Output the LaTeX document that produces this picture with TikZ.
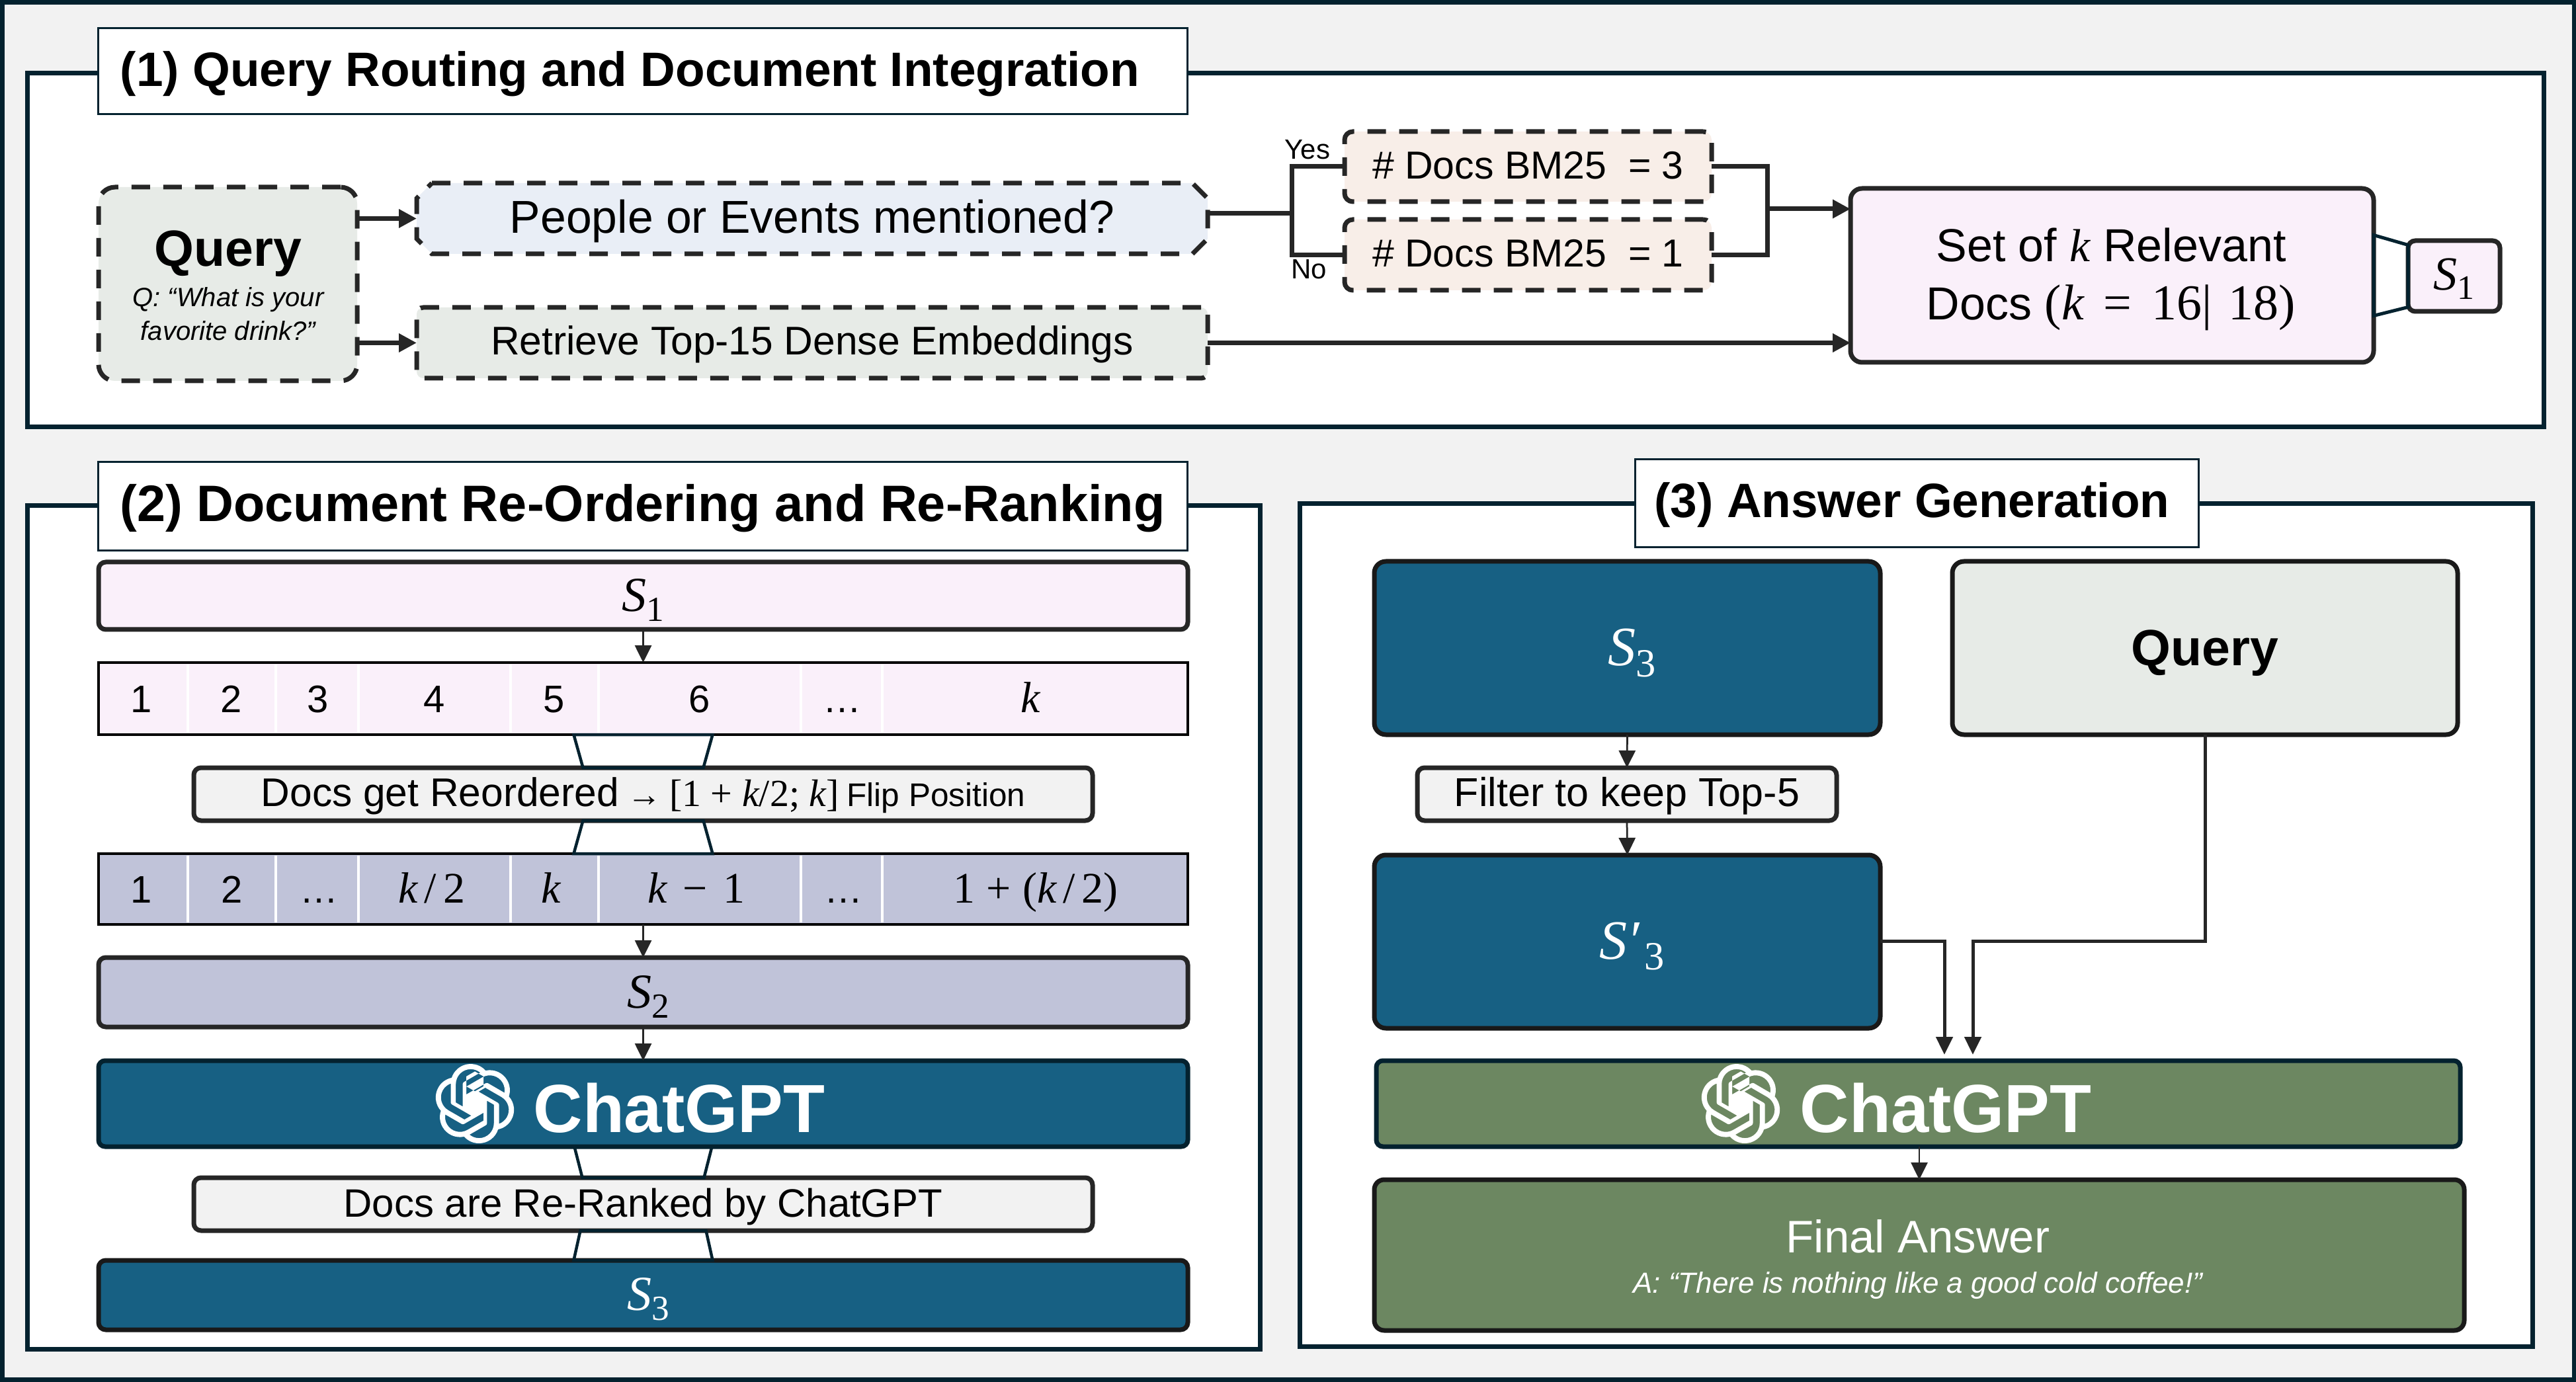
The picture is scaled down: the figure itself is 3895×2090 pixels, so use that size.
\documentclass[tikz,border=0pt]{standalone}
\usepackage{fontspec}
\setmainfont{Liberation Sans}
\newfontfamily\mthf{Liberation Serif}
\usetikzlibrary{arrows.meta,calc,svg.path}
\definecolor{pagebg}{HTML}{F2F2F2}
\definecolor{navy}{HTML}{04222F}
\definecolor{ink}{HTML}{262626}
\definecolor{teal}{HTML}{176083}
\definecolor{moss}{HTML}{6C8761}
\definecolor{lav}{HTML}{C0C3D9}
\definecolor{pinkish}{HTML}{FAF0FA}
\definecolor{greyish}{HTML}{E7EBE7}
\definecolor{bluish}{HTML}{E9EEF6}
\definecolor{peach}{HTML}{F8EEE8}
\newcommand\fs[1]{\fontsize{\fpeval{#1*0.2}}{\fpeval{#1*0.24}}\selectfont}
\newcommand\mi[1]{{\mthf\itshape #1}}
\newcommand\mth[1]{{\fs{66}\mthf #1}}
\newcommand\Ssub[1]{\mi{S}\raisebox{-.2em}{\mthf\scalebox{.72}{#1}}}
\newcommand\Sprime[1]{\mi{S′}\kern1.5pt\raisebox{-.2em}{\mthf\scalebox{.72}{#1}}}
\newcommand\bx[7][]{%
  \pgfmathsetmacro\cxx{(#3+#5)/2}\pgfmathsetmacro\cyy{(#4+#6)/2}%
  \pgfmathsetmacro\ww{(#5-#3-6)*0.2}\pgfmathsetmacro\hh{(#6-#4-6)*0.2}%
  \node[#1,minimum width=\ww pt,minimum height=\hh pt] (#2) at (\cxx,\cyy) {#7};}
\newcommand\gptlogo[3]{\begin{scope}[shift={(#1,#2)},yscale=-1,shift={(-12pt,-12pt)}]
\fill[#3] svg {M 22.2819 9.8211 a 5.9847 5.9847 0 0 0 -0.5157 -4.9108 a 6.0462 6.0462 0 0 0 -6.5098 -2.9 A 6.0651 6.0651 0 0 0 4.9807 4.1818 a 5.9847 5.9847 0 0 0 -3.9977 2.9 a 6.0462 6.0462 0 0 0 0.7427 7.0966 a 5.98 5.98 0 0 0 0.511 4.9107 a 6.051 6.051 0 0 0 6.5146 2.9001 A 5.9847 5.9847 0 0 0 13.2599 24 a 6.0557 6.0557 0 0 0 5.7718 -4.2058 a 5.9894 5.9894 0 0 0 3.9977 -2.9001 a 6.0557 6.0557 0 0 0 -0.7475 -7.0729 z m -9.022 12.6081 a 4.4755 4.4755 0 0 1 -2.8764 -1.0408 l 0.1419 -0.0804 l 4.7783 -2.7582 a 0.7948 0.7948 0 0 0 0.3927 -0.6813 v -6.7369 l 2.02 1.1686 a 0.071 0.071 0 0 1 0.038 0.052 v 5.5826 a 4.504 4.504 0 0 1 -4.4945 4.4944 z m -9.6607 -4.1254 a 4.4708 4.4708 0 0 1 -0.5346 -3.0137 l 0.142 0.0852 l 4.783 2.7582 a 0.7712 0.7712 0 0 0 0.7806 0 l 5.8428 -3.3685 v 2.3324 a 0.0804 0.0804 0 0 1 -0.0332 0.0615 L 9.74 19.9502 a 4.4992 4.4992 0 0 1 -6.1408 -1.6464 z M 2.3408 7.8956 a 4.485 4.485 0 0 1 2.3655 -1.9728 V 11.6 a 0.7664 0.7664 0 0 0 0.3879 0.6765 l 5.8144 3.3543 l -2.0201 1.1685 a 0.0757 0.0757 0 0 1 -0.071 0 l -4.8303 -2.7865 A 4.504 4.504 0 0 1 2.3408 7.872 z m 16.5963 3.8558 L 13.1038 8.364 L 15.1192 7.2 a 0.0757 0.0757 0 0 1 0.071 0 l 4.8303 2.7913 a 4.4944 4.4944 0 0 1 -0.6765 8.1042 v -5.6772 a 0.79 0.79 0 0 0 -0.407 -0.667 z m 2.0107 -3.0231 l -0.142 -0.0852 l -4.7735 -2.7818 a 0.7759 0.7759 0 0 0 -0.7854 0 L 9.409 9.2297 V 6.8974 a 0.0662 0.0662 0 0 1 0.0284 -0.0615 l 4.8303 -2.7866 a 4.4992 4.4992 0 0 1 6.6802 4.66 z M 8.3065 12.863 l -2.02 -1.1638 a 0.0804 0.0804 0 0 1 -0.038 -0.0567 V 6.0742 a 4.4992 4.4992 0 0 1 7.3757 -3.4537 l -0.142 0.0805 L 8.704 5.459 a 0.7948 0.7948 0 0 0 -0.3927 0.6813 z m 1.0976 -2.3654 l 2.602 -1.4998 l 2.6069 1.4998 v 2.9994 l -2.5974 1.4997 l -2.6067 -1.4997 z};
\end{scope}}
\tikzset{
  x=0.2pt,y=-0.2pt,
  every node/.style={inner sep=0pt,outer sep=0pt,align=center},
  bl/.style={text height=#1*0.4pt,text depth=0pt},
  panel/.style={draw=navy,fill=white,line width=1.4pt},
  titlebox/.style={draw=navy,fill=white,line width=.6pt},
  dashbox/.style={draw=ink,line width=1.4pt,dash pattern=on 5.6pt off 4pt},
  solidbox/.style={draw=ink,line width=1.4pt,rounded corners=2.2pt},
  gptbar/.style={draw=navy,line width=1.4pt,rounded corners=2pt},
  rowbar/.style={draw=black,line width=.8pt},
  rowlbl/.style={font=\fs{58},text height=8.3pt,text depth=0pt},
  sep/.style={draw=white,line width=.8pt},
  link/.style={draw=ink,line width=1.4pt},
  arrowthick/.style={draw=ink,line width=1.4pt,-{Triangle[length=5.4pt,width=5.4pt]}},
  arrowmid/.style={draw=ink,line width=1pt,-{Triangle[length=5.4pt,width=5pt]}},
  arrowthin/.style={draw=ink,line width=.55pt,-{Triangle[length=5.2pt,width=5pt]}},
  trap/.style={draw=navy,line width=.9pt},
}
\newcommand\trapv[4]{\draw[trap] ($(#1)+(-#3,0)$) -- ($(#2)+(-#4,0)$) -- ($(#2)+(#4,0)$) -- ($(#1)+(#3,0)$) -- cycle;}
\begin{document}
\begin{tikzpicture}
\useasboundingbox (0,0) rectangle (3895,2090);
\fill[pagebg] (0,0) rectangle (3895,2090);
\draw[navy,line width=1.4pt] (3,4) rectangle (3892,2086);
% panels
\bx[panel]{panelA}{38}{108}{3849}{649}{}
\bx[panel]{panelB}{38}{762}{1908}{2043}{}
\bx[panel]{panelC}{1962}{759}{3832}{2039}{}
\bx[titlebox,bl=23]{titleA}{145}{40}{1798}{176}{\fs{73}\bfseries (1) Query Routing and Document Integration\hspace*{7.6pt}}
\bx[titlebox,bl=23]{titleB}{145}{696}{1798}{836}{\fs{77.5}\bfseries (2) Document Re-Ordering and Re-Ranking}
\bx[titlebox,bl=21.5]{titleC}{2469}{692}{3327}{831}{\fs{73}\bfseries (3) Answer Generation\hspace*{2.8pt}}
% panel 1
\bx[dashbox,fill=greyish,rounded corners=5pt]{query}{146}{280}{543}{579}{}
\node[anchor=base] (querytitle) at (345,403) {\fs{77}\bfseries Query};
\node[anchor=base] (queryline) at (345,464) {\fs{40}\itshape Q: ``What is your};
\node[anchor=base] (querylinetwo) at (345,515) {\fs{40}\itshape favorite drink?''};
\draw[dashbox,fill=bluish] (653,277) -- (1803,277) -- (1826,300) -- (1826,361) -- (1803,384) -- (653,384) -- (630,361) -- (630,300) -- cycle;
\bx[bl=22]{people}{627}{274}{1829}{387}{\fs{69.7}People or Events mentioned?}
\bx[dashbox,fill=greyish,rounded corners=2pt,bl=18]{retrieve}{627}{462}{1829}{575}{\fs{60.5}Retrieve Top-15 Dense Embeddings}
\bx[dashbox,fill=peach,rounded corners=2.5pt,bl=19]{docsyes}{2030}{196}{2591}{308}{\fs{59}\# Docs BM25 ~= 3}
\bx[dashbox,fill=peach,rounded corners=2.5pt,bl=18.5]{docsno}{2030}{329}{2591}{442}{\fs{59}\# Docs BM25 ~= 1}
\bx[solidbox,fill=pinkish,rounded corners=3.5pt]{setk}{2795}{282}{3592}{551}{}
\node[anchor=base] (settop) at (3192,396) {\fs{70}Set of \mi{k} Relevant};
\node[anchor=base] (setbot) at (3192,484) {\fs{70}Docs {\fs{76}\mthf(\mi{k}\hspace{6pt}=\hspace{6pt}16|\hspace{5pt}18)}};
\bx[solidbox,fill=pinkish,bl=21]{sone}{3638}{361}{3783}{474}{\fs{72}\Ssub{1}}
\node[font=\fs{42}] (yes) at (1977,226) {Yes};
\node[font=\fs{42}] (no) at (1979,407) {No};
\coordinate (split) at (1953,323);
\coordinate (join) at (2672,316);
\draw[link] (people.east |- split) -- (split);
\draw[link] (docsyes.west) -| (split) |- (docsno.west);
\draw[link] (docsyes.east) -| (join) |- (docsno.east);
\draw[arrowthick] (join) -- (join -| setk.west);
\draw[arrowthick] (retrieve.east) -- (retrieve.east -| setk.west);
\draw[arrowthick] (query.east |- people.west) -- (people.west);
\draw[arrowthick] (query.east |- retrieve.west) -- (retrieve.west);
\draw[trap,line width=1pt] ($(setk.east)+(0,-61)$) -- ($(sone.west)+(0,-47)$) -- ($(sone.west)+(0,47)$) -- ($(setk.east)+(0,61)$) -- cycle;
% panel 2
\bx[solidbox,fill=pinkish,bl=24]{barone}{146}{847}{1799}{955}{\fs{74}\Ssub{1}}
\bx[rowbar,fill=pinkish]{rowone}{146}{999}{1799}{1114}{}
\foreach \xx/\lbl/\nm in {214/1/a,350/2/b,481/3/c,657/4/d,838/5/e,1058/6/f,1273/…/g,1558/\mth{\mi{k}}/h}
  \node[rowlbl] (r1\nm) at (\xx,1057) {\lbl};
\bx[solidbox,fill=pagebg,bl=18.5]{reorder}{290}{1158}{1655}{1244}{\fs{60.5}Docs get Reordered\hspace{2.4pt}\fs{52}→\hspace{2.4pt}\fs{58}\mthf[1 + \mi{k}/2; \mi{k}]\hspace{2.4pt}\fs{49.5}\rmfamily Flip Position}
\bx[rowbar,fill=lav]{rowtwo}{146}{1288}{1799}{1401}{}
\foreach \xx/\lbl/\nm in {214/1/a,351/2/b,482/…/c,653/\mth{\mi{k}\kern2pt/\kern2pt2}/d,833/\mth{\mi{k}}/e,1053/\mth{\mi{k}\kern4.8pt−\kern4.8pt1}/f,1275/…/g,1566/\mth{1\kern3.5pt+\kern3.5pt(\mi{k}\kern2pt/\kern2pt2)}/h}
  \node[rowlbl] (r2\nm) at (\xx,1345) {\lbl};
\foreach \xx in {284,417,542,772,905,1211,1334}{
  \draw[sep] (\xx,1005) -- (\xx,1108);
  \draw[sep] (\xx,1294) -- (\xx,1395);}
\bx[solidbox,fill=lav,bl=24]{bartwo}{146}{1445}{1799}{1556}{\hspace*{3pt}\fs{74}\Ssub{2}}
\bx[gptbar,fill=teal]{gptone}{146}{1601}{1799}{1737}{}
\gptlogo{718}{1669}{white}
\node[font=\fs{103}\bfseries,text=white] (gptonetxt) at (1027,1676) {ChatGPT};
\bx[solidbox,fill=pagebg,bl=19]{rerank}{290}{1778}{1655}{1864}{\fs{59.9}Docs are Re-Ranked by ChatGPT}
\bx[solidbox,fill=teal,draw=black!90,text=white,bl=23]{barthree}{146}{1903}{1799}{2014}{\hspace*{3pt}\fs{74}\Ssub{3}}
\draw[arrowthin] (barone.south) -- (rowone.north);
\draw[arrowthin] (rowtwo.south) -- (bartwo.north);
\draw[arrowthin] (bartwo.south) -- (gptone.north);
\trapv{rowone.south}{reorder.north}{105}{91}
\trapv{reorder.south}{rowtwo.north}{91}{105}
\trapv{gptone.south}{rerank.north}{104}{92}
\trapv{rerank.south}{barthree.north}{95}{105}
% panel 3
\bx[solidbox,fill=teal,draw=black!90,rounded corners=3.5pt,text=white,bl=27]{sthree}{2075}{846}{2846}{1114}{\hspace*{3pt}\fs{84}\Ssub{3}}
\bx[solidbox,fill=greyish,draw=black!90,rounded corners=3.5pt,bl=27]{qry}{2949}{846}{3719}{1114}{\fs{77}\bfseries Query}
\bx[solidbox,fill=pagebg,bl=18.5]{filter}{2140}{1158}{2780}{1244}{\fs{61}Filter to keep Top-5}
\bx[solidbox,fill=teal,draw=black!90,rounded corners=3.5pt,text=white,bl=26]{sthreep}{2075}{1290}{2846}{1558}{\hspace*{3pt}\fs{84}\Sprime{3}}
\bx[gptbar,fill=moss]{gpttwo}{2078}{1601}{3723}{1737}{}
\gptlogo{2632}{1669}{white}
\node[font=\fs{103}\bfseries,text=white] (gpttwotxt) at (2942,1676) {ChatGPT};
\bx[solidbox,fill=moss,draw=black!90,rounded corners=3pt]{final}{2075}{1781}{3729}{2015}{}
\node[anchor=base,text=white] (finaltitle) at (2900,1894) {\fs{69}Final Answer};
\node[anchor=base,text=white] (finalquote) at (2900,1955) {\fs{44}\itshape A: ``There is nothing like a good cold coffee!''};
\draw[arrowthin] (sthree.south) -- (filter.north);
\draw[arrowthin] (filter.south) -- (sthreep.north);
\coordinate (tipa) at (2940,1595);
\coordinate (tipb) at (2983,1595);
\coordinate (bend) at (2983,1423);
\draw[arrowmid] (sthreep.east |- bend) -| (tipa);
\draw[arrowmid] (qry.south) |- (bend) -- (tipb);
\draw[arrowthin] (gpttwo.south -| final.north) -- (final.north);
\end{tikzpicture}
\end{document}
